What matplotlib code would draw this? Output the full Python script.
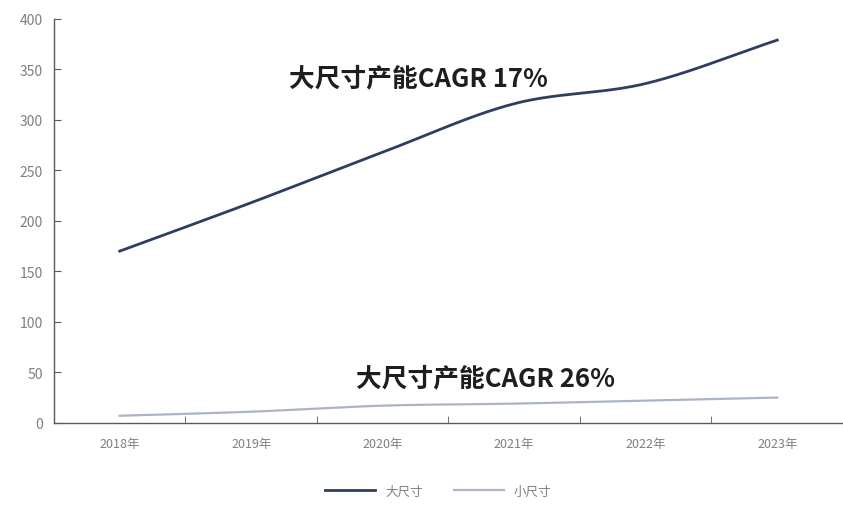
import numpy as np
import matplotlib
matplotlib.use("Agg")
import matplotlib.pyplot as plt

plt.rcParams['font.family'] = ['Noto Sans CJK SC', 'DejaVu Sans']

years = ['2018年', '2019年', '2020年', '2021年', '2022年', '2023年']
large = [170, 218, 268, 316, 336, 379]
small = [7, 11, 17, 19, 22, 25]


def smooth(xs, ys, n=40):
    # Catmull-Rom style smoothing through every point
    xs = np.asarray(xs, float)
    ys = np.asarray(ys, float)
    px = np.concatenate([[2 * xs[0] - xs[1]], xs, [2 * xs[-1] - xs[-2]]])
    py = np.concatenate([[2 * ys[0] - ys[1]], ys, [2 * ys[-1] - ys[-2]]])
    outx, outy = [], []
    t = np.linspace(0, 1, n)
    for i in range(1, len(px) - 2):
        for p, out in ((px, outx), (py, outy)):
            p0, p1, p2, p3 = p[i - 1], p[i], p[i + 1], p[i + 2]
            out.extend(0.5 * ((2 * p1) + (-p0 + p2) * t
                              + (2 * p0 - 5 * p1 + 4 * p2 - p3) * t ** 2
                              + (-p0 + 3 * p1 - 3 * p2 + p3) * t ** 3))
    return np.array(outx), np.array(outy)


fig = plt.figure(figsize=(8.43, 5.10), dpi=100)
ax = fig.add_axes([0.064, 0.169, 0.936, 0.792])

x = np.arange(len(years))
lx, ly = smooth(x, large)
sx, sy = smooth(x, small)
ax.plot(lx, ly, color='#2e3f5e', lw=2.0, label='大尺寸')
ax.plot(sx, sy, color='#aab4c6', lw=1.6, label='小尺寸')

ax.set_xlim(-0.5, len(years) - 0.5)
ax.set_ylim(0, 400)
ax.set_yticks(range(0, 401, 50))
ax.set_xticks(x)
ax.set_xticklabels(years)
ax.set_xticks(np.arange(-0.5, len(years), 1), minor=True)

for s in ('top', 'right'):
    ax.spines[s].set_visible(False)
for s in ('left', 'bottom'):
    ax.spines[s].set_color('#5a5a5a')
    ax.spines[s].set_linewidth(1.0)

ax.tick_params(axis='y', direction='in', length=5, color='#5a5a5a',
               labelsize=10, labelcolor='#7f7f7f', pad=8)
ax.tick_params(axis='x', which='major', length=0, labelsize=9,
               labelcolor='#7f7f7f', pad=10)
ax.tick_params(axis='x', which='minor', direction='in', length=5,
               color='#5a5a5a')

ax.text(2.27, 342, '大尺寸产能CAGR 17%', fontsize=18.5, fontweight='bold',
        color='#1e1e1e', ha='center', va='center')
ax.text(2.78, 45, '大尺寸产能CAGR 26%', fontsize=18.5, fontweight='bold',
        color='#1e1e1e', ha='center', va='center')

fig.legend(loc='lower center', bbox_to_anchor=(0.52, 0.0), ncol=2,
           frameon=False, fontsize=9, labelcolor='#7f7f7f',
           handlelength=4, columnspacing=2.5)

fig.savefig('out.png', dpi=100, facecolor='white')
